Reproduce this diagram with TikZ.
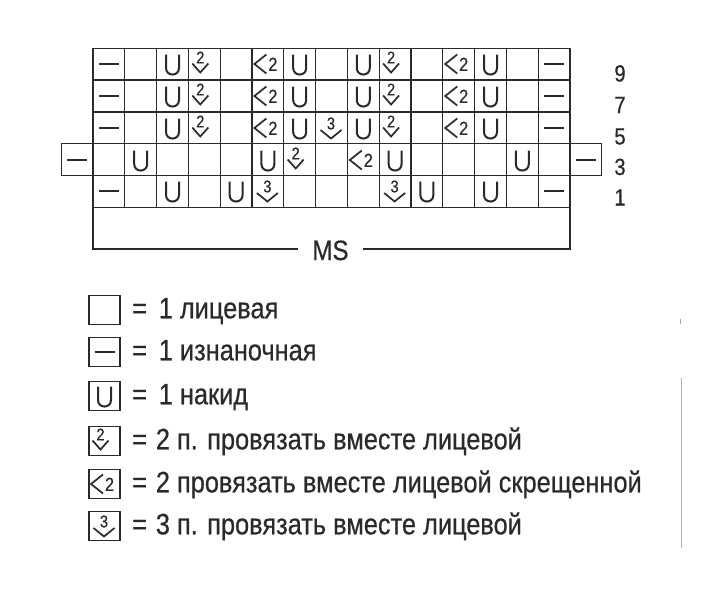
\documentclass[tikz,border=0pt]{standalone}
\usepackage{fontspec}
\setmainfont{Liberation Sans}[FakeStretch=0.86,FakeBold=0.5]
\definecolor{ink}{HTML}{2A2A2A}
\begin{document}
\begin{tikzpicture}[x=1pt,y=-1pt,line join=miter,
  gridline/.style={draw=ink,line width=1.35pt},
  sym/.style={draw=ink,line width=2pt},
  small2/.style={inner sep=0pt,text=ink,font=\fontsize{17}{17}\selectfont},
  mid2/.style={inner sep=0pt,text=ink,font=\fontsize{19}{19}\selectfont},
  symE/.pic={},
  symP/.pic={\draw[sym] (-10,0) -- (10,0);},
  symU/.pic={\draw[sym] (-6.5,-9.5) -- (-6.5,4) .. controls (-6.5,12.7) and (6.5,12.7) .. (6.5,4) -- (6.5,-9.5);},
  symA/.pic={\draw[sym,line width=1.7pt] (-12,-0.5) -- (-4,8.5) -- (4,-0.5);
             \node[small2] at (-4,-6.5) {2};},
  symB/.pic={\draw[sym,line width=1.7pt] (-1.5,-9.5) -- (-13.5,0) -- (-1.5,9.5);
             \node[mid2] at (5,0.3) {2};},
  symC/.pic={\draw[sym,line width=1.7pt] (-11,2) -- (-0.5,10.5) -- (10,2);
             \node[small2] at (-0.5,-4.5) {3};},
  legtext/.style={anchor=base west,inner sep=0pt,text=ink,font=\fontsize{29.5}{32}\selectfont},
  rownum/.style={anchor=base,inner sep=0pt,text=ink,font=\fontsize{23.5}{26}\selectfont}
]
\useasboundingbox[fill=white] (0,0) rectangle (720,600);

% chart grid
\draw[gridline] (93,48.3) rectangle (570,207.3);
\draw[gridline] (61.2,143.7) rectangle (601.8,175.5);
\foreach \yy in {80.1,111.9} \draw[gridline] (93,\yy) -- (570,\yy);
\foreach \c in {1,...,14} \draw[gridline] (93+\c*31.8,48.3) -- (93+\c*31.8,207.3);

% MS bracket
\draw[gridline] (93,207.3) -- (93,249) -- (298,249);
\draw[gridline] (363,249) -- (570,249) -- (570,207.3);
\node[anchor=base,inner sep=0pt,text=ink,font=\fontsize{28}{30}\selectfont] (ms) at (330.5,260) {MS};

% chart symbols
\foreach \yc/\cells in {
  64/{P,E,U,A,E,B,U,E,U,A,E,B,U,E,P},
  96/{P,E,U,A,E,B,U,E,U,A,E,B,U,E,P},
  128/{P,E,U,A,E,B,U,C,U,A,E,B,U,E,P},
  191/{P,E,U,E,U,C,E,E,E,C,U,E,U,E,P}}{
  \foreach \t [count=\c] in \cells { \pic at (77.1+\c*31.8,\yc) {sym\t}; }
}
\foreach \t [count=\c from 0] in {P,E,U,E,E,E,U,A,E,B,U,E,E,E,U,E,P} {
  \pic at (77.1+\c*31.8,160) {sym\t};
}

% row numbers
\node[rownum] (r9) at (620,81.5) {9};
\node[rownum] (r7) at (620,113) {7};
\node[rownum] (r5) at (620,144.5) {5};
\node[rownum] (r3) at (620,175) {3};
\node[rownum] (r1) at (620,205.5) {1};

% legend
\foreach \yc/\t/\txt [count=\i] in {
  310/E/{лицевая},
  352/P/{изнаночная},
  396/U/{накид}}{
  \draw[gridline] (89,\yc-14.5) rectangle (120,\yc+14.5);
  \pic at (104.5,\yc) {sym\t};
  \node[legtext] (leg\i) at (132,\yc+8.3) {=\hspace{0.4em}1 \txt};
}
\foreach \yc/\t/\txt [count=\i from 4] in {
  441/A/{2 п. провязать вместе лицевой},
  484/B/{2 провязать вместе лицевой скрещенной},
  526/C/{3 п. провязать вместе лицевой}}{
  \draw[gridline] (89,\yc-14.5) rectangle (120,\yc+14.5);
  \pic at (104.5,\yc) {sym\t};
  \node[legtext] (leg\i) at (132,\yc+8.3) {=\hspace{0.3em}\txt};
}

% scan marks at right
\draw[black!35,line width=1pt] (680.5,319) -- (680.5,324);
\draw[black!30,line width=1pt] (681,378) -- (681,548);
\end{tikzpicture}
\end{document}
